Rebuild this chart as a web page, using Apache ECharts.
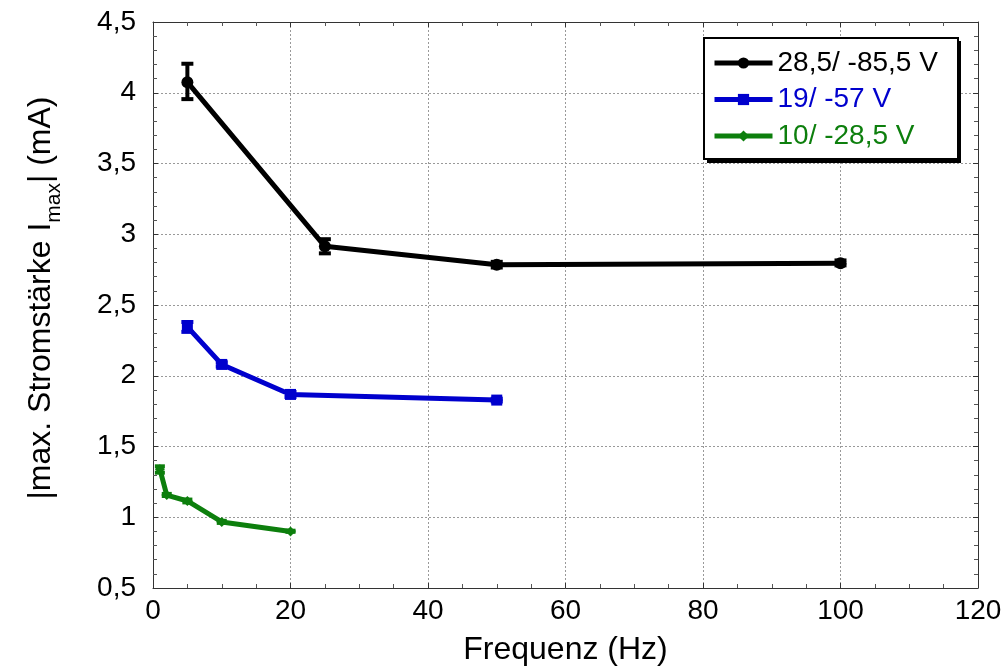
<!DOCTYPE html>
<html>
<head>
<meta charset="utf-8">
<script src="https://cdn.jsdelivr.net/npm/echarts@6/dist/echarts.min.js"></script>
<style>
	* { margin: 0; padding: 0; }
	body { background: #fff; }
	#main { width: 1006px; height: 671px; }
</style>
</head>
<body>
<div id="main"></div>
<script>
	// Frequenz (Hz) / Stromstärke (mA)
	var freqA = [5, 25, 50, 100];
	var valA = [4.075, 2.915, 2.785, 2.795];
	var loA = [3.955, 2.865, 2.765, 2.78];
	var hiA = [4.205, 2.965, 2.805, 2.815];

	var freqB = [5, 10, 20, 50];
	var valB = [2.345, 2.08, 1.868, 1.828];
	var loB = [2.31, 2.065, 1.85, 1.818];
	var hiB = [2.38, 2.095, 1.885, 1.838];

	var freqC = [1, 2, 5, 10, 20];
	var valC = [1.34, 1.157, 1.115, 0.967, 0.9];
	var loC = [1.315, 1.15, 1.105, 0.96, 0.897];
	var hiC = [1.36, 1.165, 1.125, 0.975, 0.905];

	var names = ['28,5/ -85,5 V', '19/ -57 V', '10/ -28,5 V'];
	var colors = ['#000000', '#0000cd', '#0d7f0d'];

	var font = "'Liberation Sans', Arial, sans-serif";

	function pairs(xs, ys) {
		return xs.map(function(x, i) { return [x, ys[i]]; });
	}
	function errs(xs, lo, hi) {
		return xs.map(function(x, i) { return [x, lo[i], hi[i]]; });
	}
	function errSeries(data, color, half) {
		return {
			type: 'custom',
			data: data,
			z: 3,
			silent: true,
			renderItem: function(params, api) {
				var x = api.value(0);
				var p1 = api.coord([x, api.value(1)]);
				var p2 = api.coord([x, api.value(2)]);
				var st = { stroke: color, lineWidth: 4 };
				return {
					type: 'group',
					children: [
						{ type: 'line', shape: { x1: p1[0], y1: p1[1], x2: p2[0], y2: p2[1] }, style: st },
						{ type: 'line', shape: { x1: p1[0] - half, y1: p1[1], x2: p1[0] + half, y2: p1[1] }, style: st },
						{ type: 'line', shape: { x1: p2[0] - half, y1: p2[1], x2: p2[0] + half, y2: p2[1] }, style: st }
					]
				};
			}
		};
	}

	var chart = echarts.init(document.getElementById('main'));
	var comma = function(v) { return String(v).replace('.', ','); };
	var frame = { show: true, onZero: false, lineStyle: { color: '#333', width: 1 } };
	var grid = { show: true, lineStyle: { color: '#999', type: [2, 2], width: 1 } };

	chart.setOption({
		animation: false,
		textStyle: { fontFamily: font },
		grid: { left: 153, right: 28, top: 22, bottom: 83 },
		// Legendenkasten mit hartem Schatten
		graphic: [{
			type: 'rect', left: 707, top: 41, z: 50,
			shape: { width: 254, height: 122 },
			style: { fill: '#000' }
		}, {
			type: 'rect', left: 703, top: 37, z: 51,
			shape: { width: 254, height: 121 },
			style: { fill: '#fff', stroke: '#000', lineWidth: 2 }
		}],
		legend: {
			left: 704,
			top: 39,
			z: 60,
			orient: 'vertical',
			padding: [10, 10, 8, 8],
			itemWidth: 58,
			itemHeight: 14,
			itemGap: 8.5,
			lineStyle: { width: 5 },
			textStyle: { fontSize: 28, fontFamily: font },
			data: names.map(function(n, i) {
				return { name: n, textStyle: { color: colors[i] } };
			})
		},
		xAxis: [{
			type: 'value',
			min: 0, max: 120, interval: 20,
			name: 'Frequenz (Hz)',
			nameLocation: 'middle',
			nameGap: 46,
			nameTextStyle: { fontSize: 32, color: '#000', fontFamily: font },
			axisLine: frame,
			axisTick: { inside: true, length: 5, lineStyle: { color: '#333' } },
			minorTick: { show: true, splitNumber: 4, length: 4, lineStyle: { color: '#555' } },
			axisLabel: { fontSize: 28, color: '#000', margin: 9 },
			splitLine: grid
		}, {
			type: 'value',
			position: 'top',
			min: 0, max: 120, interval: 20,
			axisLine: frame,
			axisTick: { inside: true, length: 5, lineStyle: { color: '#333' } },
			minorTick: { show: true, splitNumber: 4, length: 4, lineStyle: { color: '#555' } },
			axisLabel: { show: false },
			splitLine: { show: false }
		}],
		yAxis: [{
			type: 'value',
			min: 0.5, max: 4.5, interval: 0.5,
			name: '{n||max. Stromstärke I}{s|max}{n|| (mA)}',
			nameLocation: 'middle',
			nameGap: 88,
			nameTextStyle: {
				color: '#000',
				padding: [0, 0, 0, 14],
				rich: {
					n: { fontSize: 32, fontFamily: font, color: '#000' },
					s: { fontSize: 21, fontFamily: font, color: '#000', verticalAlign: 'bottom', lineHeight: 48 }
				}
			},
			axisLine: frame,
			axisTick: { inside: true, length: 5, lineStyle: { color: '#333' } },
			minorTick: { show: true, splitNumber: 5, length: 4, lineStyle: { color: '#555' } },
			axisLabel: { fontSize: 28, color: '#000', margin: 17, formatter: comma },
			splitLine: grid
		}, {
			type: 'value',
			position: 'right',
			min: 0.5, max: 4.5, interval: 0.5,
			axisLine: frame,
			axisTick: { inside: true, length: 5, lineStyle: { color: '#333' } },
			minorTick: { show: true, splitNumber: 5, length: 4, lineStyle: { color: '#555' } },
			axisLabel: { show: false },
			splitLine: { show: false }
		}],
		series: [{
			name: names[0],
			type: 'line',
			data: pairs(freqA, valA),
			symbol: 'circle',
			symbolSize: 12,
			z: 4,
			itemStyle: { color: colors[0] },
			lineStyle: { color: colors[0], width: 5 }
		}, {
			name: names[1],
			type: 'line',
			data: pairs(freqB, valB),
			symbol: 'rect',
			symbolSize: 11,
			z: 4,
			itemStyle: { color: colors[1] },
			lineStyle: { color: colors[1], width: 5 }
		}, {
			name: names[2],
			type: 'line',
			data: pairs(freqC, valC),
			symbol: 'diamond',
			symbolSize: 10,
			z: 4,
			itemStyle: { color: colors[2] },
			lineStyle: { color: colors[2], width: 5 }
		},
			errSeries(errs(freqA, loA, hiA), colors[0], 6),
			errSeries(errs(freqB, loB, hiB), colors[1], 6),
			errSeries(errs(freqC, loC, hiC), colors[2], 5)
		]
	});
</script>
</body>
</html>
